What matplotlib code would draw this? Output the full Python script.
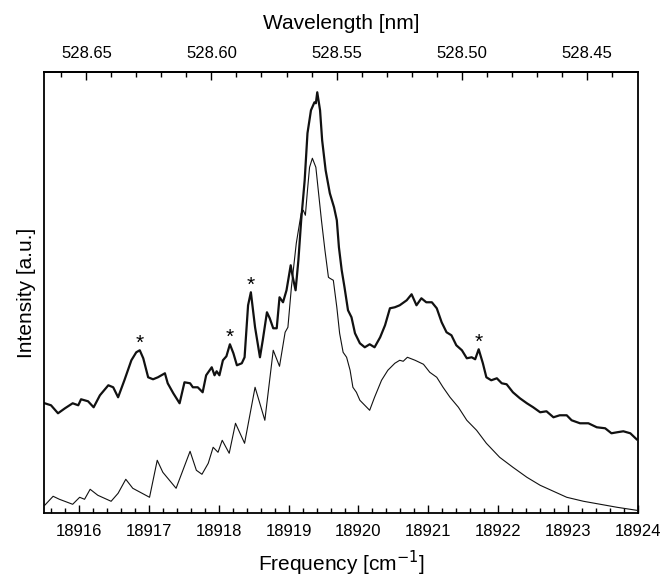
import numpy as np
import matplotlib
matplotlib.use("Agg")
import matplotlib.pyplot as plt
from matplotlib.ticker import MultipleLocator, FormatStrFormatter

plt.rcParams['font.family'] = ['Liberation Sans', 'DejaVu Sans']

# measured spectrum (thick line), frequency in cm^-1, intensity in a.u.
exp_freq = [18915.51, 18915.60, 18915.70, 18915.80, 18915.91, 18915.99, 18916.03, 18916.13,
            18916.21, 18916.30, 18916.42, 18916.49, 18916.56, 18916.65, 18916.75, 18916.82,
            18916.87, 18916.92, 18916.99, 18917.06, 18917.13, 18917.23, 18917.27, 18917.35,
            18917.44, 18917.51, 18917.59, 18917.63, 18917.70, 18917.77, 18917.82, 18917.90,
            18917.94, 18917.97, 18918.01, 18918.06, 18918.11, 18918.16, 18918.21, 18918.26,
            18918.33, 18918.37, 18918.42, 18918.46, 18918.52, 18918.59, 18918.63, 18918.69,
            18918.73, 18918.78, 18918.83, 18918.87, 18918.92, 18918.97, 18919.03, 18919.06,
            18919.10, 18919.14, 18919.18, 18919.23, 18919.27, 18919.32, 18919.37, 18919.39,
            18919.41, 18919.45, 18919.48, 18919.53, 18919.59, 18919.65, 18919.69, 18919.72,
            18919.76, 18919.80, 18919.85, 18919.90, 18919.95, 18920.02, 18920.09, 18920.16,
            18920.23, 18920.31, 18920.38, 18920.45, 18920.52, 18920.59, 18920.69, 18920.76,
            18920.83, 18920.90, 18920.97, 18921.05, 18921.12, 18921.19, 18921.26, 18921.33,
            18921.40, 18921.48, 18921.55, 18921.62, 18921.67, 18921.72, 18921.78, 18921.83,
            18921.90, 18921.98, 18922.05, 18922.12, 18922.21, 18922.31, 18922.41, 18922.50,
            18922.60, 18922.69, 18922.79, 18922.88, 18922.98, 18923.05, 18923.17, 18923.29,
            18923.41, 18923.53, 18923.62, 18923.70, 18923.79, 18923.89, 18923.98]
exp_int = [1.10, 1.08, 1.00, 1.05, 1.10, 1.08, 1.14, 1.12,
           1.06, 1.18, 1.28, 1.26, 1.16, 1.33, 1.53, 1.61,
           1.63, 1.55, 1.36, 1.34, 1.36, 1.40, 1.30, 1.20,
           1.10, 1.31, 1.30, 1.26, 1.26, 1.21, 1.38, 1.46,
           1.38, 1.42, 1.38, 1.53, 1.57, 1.69, 1.60, 1.48,
           1.50, 1.56, 2.08, 2.21, 1.86, 1.56, 1.73, 2.01,
           1.95, 1.85, 1.85, 2.16, 2.11, 2.23, 2.48, 2.36,
           2.23, 2.53, 2.93, 3.33, 3.80, 4.03, 4.11, 4.10,
           4.21, 4.03, 3.73, 3.43, 3.20, 3.06, 2.93, 2.66,
           2.43, 2.26, 2.03, 1.96, 1.80, 1.70, 1.66, 1.69,
           1.66, 1.76, 1.88, 2.05, 2.06, 2.08, 2.13, 2.19,
           2.08, 2.15, 2.11, 2.11, 2.05, 1.91, 1.81, 1.78,
           1.68, 1.63, 1.55, 1.56, 1.54, 1.64, 1.50, 1.36,
           1.33, 1.35, 1.30, 1.29, 1.21, 1.15, 1.10, 1.06,
           1.01, 1.02, 0.96, 0.98, 0.98, 0.93, 0.90, 0.90,
           0.86, 0.85, 0.80, 0.81, 0.82, 0.80, 0.74]

# simulated spectrum (thin line)
sim_freq = [18915.51, 18915.63, 18915.72, 18915.91, 18916.01, 18916.08, 18916.16, 18916.27,
            18916.46, 18916.56, 18916.67, 18916.77, 18917.01, 18917.12, 18917.20, 18917.39,
            18917.59, 18917.68, 18917.76, 18917.85, 18917.92, 18917.99, 18918.05, 18918.15,
            18918.24, 18918.37, 18918.52, 18918.66, 18918.78, 18918.87, 18918.95, 18918.99,
            18919.04, 18919.11, 18919.18, 18919.21, 18919.24, 18919.27, 18919.30, 18919.34,
            18919.39, 18919.42, 18919.47, 18919.52, 18919.57, 18919.59, 18919.64, 18919.69,
            18919.73, 18919.78, 18919.83, 18919.88, 18919.92, 18919.97, 18920.02, 18920.09,
            18920.16, 18920.23, 18920.33, 18920.42, 18920.52, 18920.59, 18920.64, 18920.70,
            18920.81, 18920.93, 18921.02, 18921.12, 18921.21, 18921.31, 18921.43, 18921.55,
            18921.69, 18921.83, 18922.02, 18922.21, 18922.41, 18922.60, 18922.79, 18922.98,
            18923.22, 18923.46, 18923.70, 18923.98]
sim_int = [0.08, 0.17, 0.14, 0.09, 0.16, 0.14, 0.24, 0.18,
           0.12, 0.20, 0.34, 0.25, 0.16, 0.53, 0.41, 0.25,
           0.62, 0.43, 0.39, 0.50, 0.66, 0.61, 0.73, 0.60,
           0.90, 0.70, 1.26, 0.93, 1.63, 1.47, 1.81, 1.86,
           2.26, 2.70, 3.00, 3.03, 2.98, 3.23, 3.46, 3.55,
           3.46, 3.26, 2.93, 2.63, 2.36, 2.35, 2.33, 2.06,
           1.80, 1.61, 1.56, 1.43, 1.26, 1.21, 1.13, 1.08,
           1.03, 1.16, 1.33, 1.43, 1.50, 1.53, 1.52, 1.56,
           1.53, 1.49, 1.41, 1.36, 1.26, 1.16, 1.06, 0.93,
           0.83, 0.70, 0.56, 0.46, 0.36, 0.28, 0.22, 0.16,
           0.12, 0.09, 0.06, 0.03]

# peaks marked with an asterisk
star_freq = [18916.87, 18918.16, 18918.46, 18921.72]

# wavelength ticks on the top axis (nm)
wl_ticks = [528.65, 528.60, 528.55, 528.50, 528.45]
wl_minor = [528.66, 528.64, 528.63, 528.62, 528.61, 528.59, 528.58, 528.57, 528.56,
            528.54, 528.53, 528.52, 528.51, 528.49, 528.48, 528.47, 528.46, 528.44]


fig = plt.figure(figsize=(6.63, 5.79), dpi=100)
ax = fig.add_axes([0.0664, 0.1135, 0.8959, 0.7617])

ax.plot(exp_freq, exp_int, color='#111111', lw=1.6)
ax.plot(sim_freq, sim_int, color='#111111', lw=0.8)

for f in star_freq:
    y = np.interp(f, exp_freq, exp_int)
    ax.annotate('*', xy=(f, y), xytext=(0, 1), textcoords='offset points',
                ha='center', va='baseline', fontsize=15)

ax.set_xlim(18915.5, 18924)
ax.set_ylim(0, 4.41)
ax.xaxis.set_major_locator(MultipleLocator(1))
ax.xaxis.set_minor_locator(MultipleLocator(0.2))
ax.xaxis.set_major_formatter(FormatStrFormatter('%d'))
ax.tick_params(axis='x', which='major', direction='in', length=6, width=1, labelsize=12, pad=8)
ax.tick_params(axis='x', which='minor', direction='in', length=3.5, width=1)
ax.set_yticks([])
for sp in ax.spines.values():
    sp.set_linewidth(1.3)

ax.set_xlabel('Frequency [cm$^{-1}$]', fontsize=15, labelpad=7)
ax.set_ylabel('Intensity [a.u.]', fontsize=15, labelpad=6)

top = ax.secondary_xaxis('top', functions=(lambda x: 1e7 / x, lambda x: 1e7 / x))
top.set_xticks(wl_ticks)
top.set_xticks(wl_minor, minor=True)
top.xaxis.set_major_formatter(FormatStrFormatter('%.2f'))
top.tick_params(axis='x', which='major', direction='in', length=6, width=1, labelsize=12, pad=8)
top.tick_params(axis='x', which='minor', direction='in', length=3.5, width=1)
top.spines['top'].set_linewidth(1.3)
top.set_xlabel('Wavelength [nm]', fontsize=15, labelpad=12)

fig.savefig('out.png', dpi=100)
